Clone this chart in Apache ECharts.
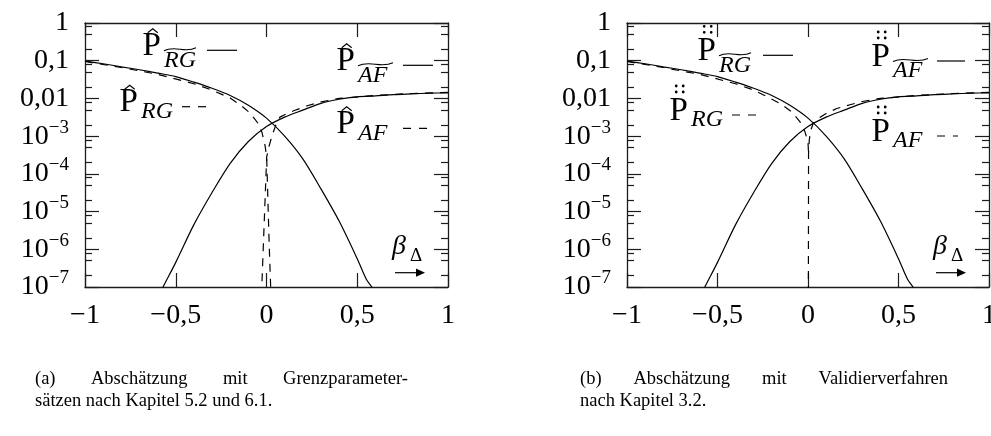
<!DOCTYPE html>
<html>
<head>
<meta charset="utf-8">
<script src="https://cdn.jsdelivr.net/npm/echarts@6.0.0/dist/echarts.min.js"></script>
<style>
  html, body { margin: 0; padding: 0; background: #fff; }
  #chart { width: 991px; height: 436px; }
</style>
</head>
<body>
<div id="chart"></div>
<script>
// ---- data -------------------------------------------------------------
// Solid curves (tilde estimates), identical in both panels
const betaRGTilde = [-1, -0.9, -0.8, -0.7, -0.6, -0.5, -0.4, -0.3, -0.2, -0.1, 0, 0.1, 0.2, 0.3, 0.4, 0.5, 0.55, 0.58, 0.6];
const pRGTilde    = [9.8e-2, 8.3e-2, 6.9e-2, 5.75e-2, 4.7e-2, 3.8e-2, 2.7e-2, 1.86e-2, 1.2e-2, 6.6e-3, 3.0e-3, 1.0e-3, 2.5e-4, 4.0e-5, 5.6e-6, 5.6e-7, 1.6e-7, 1.0e-7, 6.3e-8];

const betaAFTilde = [-0.6, -0.57, -0.5, -0.4, -0.3, -0.2, -0.1, 0, 0.1, 0.2, 0.3, 0.4, 0.5, 0.6, 0.7, 0.8, 0.9, 1];
const pAFTilde    = [5.0e-8, 1.0e-7, 4.5e-7, 4.5e-6, 3.2e-5, 1.9e-4, 7.2e-4, 1.8e-3, 3.2e-3, 4.9e-3, 7.4e-3, 9.5e-3, 1.1e-2, 1.17e-2, 1.26e-2, 1.32e-2, 1.38e-2, 1.41e-2];

// Panel (a): dashed estimates from limit parameter sets
const betaRGa = [-1, -0.8, -0.6, -0.4, -0.3, -0.2, -0.146, -0.09, -0.05, -0.025, -0.008, 0.001, 0.008, 0.015, 0.023, 0.026];
const pRGa    = [9.55e-2, 6.6e-2, 4.37e-2, 2.45e-2, 1.66e-2, 1.02e-2, 6.8e-3, 4.1e-3, 2.3e-3, 1.26e-3, 5.6e-4, 2.8e-4, 1.8e-5, 1.26e-6, 1.0e-7, 4.0e-8];

const betaAFa = [1, 0.8, 0.6, 0.4, 0.3, 0.22, 0.15, 0.1, 0.074, 0.05, 0.03, 0.015, 0.001, -0.008, -0.017, -0.026, -0.029];
const pAFa    = [1.445e-2, 1.35e-2, 1.2e-2, 1.0e-2, 8.1e-3, 6.3e-3, 4.7e-3, 3.7e-3, 3.2e-3, 1.9e-3, 1.0e-3, 5.6e-4, 2.8e-4, 2.0e-5, 1.4e-6, 1.0e-7, 4.0e-8];

// Panel (b): dashed estimates from the validation procedure
// (the RG curve joins the AF curve at the drop to zero near beta = 0)
const betaRGb = [-1, -0.8, -0.6, -0.4, -0.3, -0.228, -0.155, -0.09, -0.044, -0.017, 0, 0.003];
const pRGb    = [9.55e-2, 6.6e-2, 4.37e-2, 2.45e-2, 1.66e-2, 1.12e-2, 7.4e-3, 4.4e-3, 2.4e-3, 1.32e-3, 6.8e-4, 3.5e-4];

const betaAFb = [1, 0.8, 0.6, 0.4, 0.3, 0.232, 0.159, 0.1, 0.06, 0.029, 0.015, 0.007, 0.003, 0.002];
const pAFb    = [1.445e-2, 1.35e-2, 1.2e-2, 1.0e-2, 8.3e-3, 6.8e-3, 5.4e-3, 4.0e-3, 3.0e-3, 2.2e-3, 1.41e-3, 7.9e-4, 3.5e-4, 4.0e-8];

// Axis ticks
const xTickValues    = [-1, -0.5, 0, 0.5, 1];
const yDecadeExps    = [0, -1, -2, -3, -4, -5, -6, -7];   // ticks at 10^e
const yMinorFactors  = [2, 5, 8];                          // minor ticks at m * 10^e

// Captions
const captionA = ['(a) Abschätzung mit Grenzparameter-', 'sätzen nach Kapitel 5.2 und 6.1.'];
const captionB = ['(b) Abschätzung mit Validierverfahren', 'nach Kapitel 3.2.'];

// ---- helpers ----------------------------------------------------------
const SERIF = '"Liberation Serif", "Times New Roman", serif';
const INK = '#000';
const FRAME = '#1c1c1c';
const E_MIN = -7, E_MAX = 0;   // decade range of the probability axis

const pairs = (xs, ys) => xs.map((x, i) => [x, ys[i]]);

// ticks of the probability axis are placed on a companion decade-exponent axis
const yMinorExps = [];
yDecadeExps.filter(e => e < E_MAX).forEach(e => yMinorFactors.forEach(m => yMinorExps.push(e + Math.log10(m))));

const betaLabel = v => (v < 0 ? '\u2212' : '') + String(Math.abs(v)).replace('.', ',');
const decadeLabel = v => {
  const e = Math.round(v);
  if (e === 0) return '1';
  if (e >= -2) return '0,' + '0'.repeat(-e - 1) + '1';
  return '{b|10}{s|\u2212' + (-e) + '}';
};

const frameLine = { show: true, onZero: false, lineStyle: { color: FRAME, width: 1.3 } };
const noLine = { show: false, onZero: false };
const majorTick = (vals) => ({ show: true, inside: true, length: 14, customValues: vals, lineStyle: { color: FRAME, width: 1.2 } });
const minorTick = { show: true, inside: true, length: 7, customValues: yMinorExps, lineStyle: { color: FRAME, width: 1.2 } };

const grids = [
  { left: 85, top: 23, width: 363, height: 264, containLabel: false, outerBoundsMode: 'none' },
  { left: 627, top: 23, width: 362, height: 264, containLabel: false, outerBoundsMode: 'none' }
];

const Y_PER_GRID = 6;
const xAxes = [];
const yAxes = [];
grids.forEach((g, gi) => {
  xAxes.push({
    gridIndex: gi, type: 'value', position: 'bottom', min: -1, max: 1, interval: 0.5,
    axisLine: frameLine, axisTick: majorTick(xTickValues), splitLine: { show: false },
    axisLabel: { show: true, customValues: xTickValues, margin: 15, formatter: betaLabel, color: INK, fontFamily: SERIF, fontSize: 28, lineHeight: 28, showMinLabel: true, showMaxLabel: true, hideOverlap: false }
  });
  xAxes.push({
    gridIndex: gi, type: 'value', position: 'top', min: -1, max: 1, interval: 0.5,
    axisLine: frameLine, axisTick: majorTick(xTickValues), splitLine: { show: false }, axisLabel: { show: false }
  });
  // probability axis (log) carrying the curves
  const logAxis = (pos) => ({ gridIndex: gi, type: 'log', logBase: 10, min: Math.pow(10, E_MIN), max: Math.pow(10, E_MAX),
    position: pos, axisLine: frameLine, axisTick: { show: false }, axisLabel: { show: false }, splitLine: { show: false } });
  // decade-exponent companion axis for ticks and labels
  const expAxis = (pos, tick, label) => ({ gridIndex: gi, type: 'value', min: E_MIN, max: E_MAX,
    position: pos, axisLine: noLine, axisTick: tick, splitLine: { show: false }, axisLabel: label || { show: false } });
  yAxes.push(logAxis('left'));
  yAxes.push(expAxis('left', majorTick(yDecadeExps), {
    show: true, customValues: yDecadeExps, formatter: decadeLabel, margin: 16,
    showMinLabel: true, showMaxLabel: true, hideOverlap: false,
    color: INK, fontFamily: SERIF, fontSize: 28, lineHeight: 36,
    rich: {
      b: { color: INK, fontFamily: SERIF, fontSize: 28, lineHeight: 36 },
      s: { color: INK, fontFamily: SERIF, fontSize: 19, lineHeight: 17, verticalAlign: 'top' }
    }
  }));
  yAxes.push(expAxis('left', minorTick));
  yAxes.push(logAxis('right'));
  yAxes.push(expAxis('right', majorTick(yDecadeExps)));
  yAxes.push(expAxis('right', minorTick));
});

const DASH = [8, 7];
const curve = (gi, xs, ys, dashed, smooth) => ({
  type: 'line', xAxisIndex: gi * 2, yAxisIndex: gi * Y_PER_GRID,
  data: pairs(xs, ys), showSymbol: false, symbol: 'none', clip: true, silent: true,
  smooth: smooth, lineStyle: { color: INK, width: 1.2, type: dashed ? DASH : 'solid' }
});

const series = [
  curve(0, betaRGTilde, pRGTilde, false, 0.3),
  curve(0, betaAFTilde, pAFTilde, false, 0.3),
  curve(0, betaRGa, pRGa, true, false),
  curve(0, betaAFa, pAFa, true, false),
  curve(1, betaRGTilde, pRGTilde, false, 0.3),
  curve(1, betaAFTilde, pAFTilde, false, 0.3),
  curve(1, betaRGb, pRGb, true, false),
  curve(1, betaAFb, pAFb, true, false)
];

// ---- annotations (curve keys, axis name, captions) --------------------
const txt = (x, y, text, font, align) => ({
  type: 'text', x: x, y: y, silent: true,
  style: { text: text, font: font, fill: INK, align: align || 'left', verticalAlign: 'middle', textAlign: align || 'left', textVerticalAlign: 'middle' }
});

function curveKey(k, accent) {
  const els = [];
  const sy = k.y;
  const px = k.pLeft;
  els.push(txt(px - 0.5, sy - 4, 'P', '33px ' + SERIF));
  const cx = px + 9.7;
  if (accent === 'hat') {
    els.push({ type: 'polyline', silent: true, shape: { points: [[cx - 5, sy - 17.5], [cx, sy - 21.5], [cx + 5, sy - 17.5]] }, style: { stroke: INK, lineWidth: 1.1, fill: 'none' } });
  } else {
    [[-3.5, -29], [3.5, -29], [-3.5, -23], [3.5, -23]].forEach(d => {
      els.push({ type: 'circle', silent: true, shape: { cx: cx + d[0], cy: sy + d[1], r: 1.4 }, style: { fill: INK } });
    });
  }
  const sx = px + 21;
  const w = k.sub === 'RG' ? 32 : 35;
  els.push(txt(sx, sy + (k.tilde ? 9.9 : 4.9), k.sub, 'italic 24px ' + SERIF));
  if (k.tilde) {
    const ty = sy - 1;
    els.push({ type: 'bezierCurve', silent: true,
      shape: { x1: sx, y1: ty + 1.5, cpx1: sx + w * 0.35, cpy1: ty - 4.5, cpx2: sx + w * 0.65, cpy2: ty + 4.5, x2: sx + w, y2: ty - 1.5 },
      style: { stroke: INK, lineWidth: 1.1, fill: 'none' } });
  }
  els.push({ type: 'line', silent: true, shape: { x1: k.x1, y1: sy, x2: k.x2, y2: sy },
    style: { stroke: INK, lineWidth: 1.2, lineDash: k.dashed ? [8, 8] : null } });
  return els;
}

const keysA = [
  { pLeft: 143, y: 50.3, sub: 'RG', tilde: true, x1: 207, x2: 237, dashed: false },
  { pLeft: 120, y: 106.7, sub: 'RG', tilde: false, x1: 182, x2: 207, dashed: true },
  { pLeft: 337, y: 65.3, sub: 'AF', tilde: true, x1: 403, x2: 433, dashed: false },
  { pLeft: 337, y: 128.3, sub: 'AF', tilde: false, x1: 403, x2: 427, dashed: true }
];
const keysB = [
  { pLeft: 698, y: 55.3, sub: 'RG', tilde: true, x1: 763, x2: 793, dashed: false },
  { pLeft: 670, y: 115, sub: 'RG', tilde: false, x1: 732, x2: 757, dashed: true },
  { pLeft: 872, y: 61, sub: 'AF', tilde: true, x1: 937, x2: 965, dashed: false },
  { pLeft: 872, y: 136, sub: 'AF', tilde: false, x1: 937, x2: 958, dashed: true }
];

function betaName(right) {
  const x0 = right - 56;
  return [
    txt(x0, 247, '\u03B2', 'italic 28px ' + SERIF),
    txt(x0 + 18, 256, '\u0394', '19px ' + SERIF),
    { type: 'line', silent: true, shape: { x1: x0 + 3, y1: 272.7, x2: x0 + 26, y2: 272.7 }, style: { stroke: INK, lineWidth: 1.2 } },
    { type: 'polygon', silent: true, shape: { points: [[x0 + 24, 268.6], [x0 + 33, 272.7], [x0 + 24, 276.8]] }, style: { fill: INK } }
  ];
}

const measureCtx = document.createElement('canvas').getContext('2d');
const CAP_FONT = '18.5px ' + SERIF;
function justified(line, left, right, y) {
  measureCtx.font = CAP_FONT;
  const words = line.split(' ');
  const widths = words.map(w => measureCtx.measureText(w).width);
  const gap = (right - left - widths.reduce((a, b) => a + b, 0)) / (words.length - 1);
  let x = left;
  return words.map((w, i) => { const el = txt(x, y, w, CAP_FONT); x += widths[i] + gap; return el; });
}

const graphics = [].concat(
  ...keysA.map(k => curveKey(k, 'hat')),
  ...keysB.map(k => curveKey(k, 'ddot')),
  betaName(448), betaName(989),
  justified(captionA[0], 35, 408, 379.5), [txt(35, 401.5, captionA[1], CAP_FONT)],
  justified(captionB[0], 580, 948, 379.5), [txt(580, 401.5, captionB[1], CAP_FONT)]
);

const chart = echarts.init(document.getElementById('chart'), null, { renderer: 'canvas', width: 991, height: 436 });
chart.setOption({
  animation: false,
  backgroundColor: '#fff',
  grid: grids,
  xAxis: xAxes,
  yAxis: yAxes,
  series: series,
  graphic: graphics
});
</script>
</body>
</html>
